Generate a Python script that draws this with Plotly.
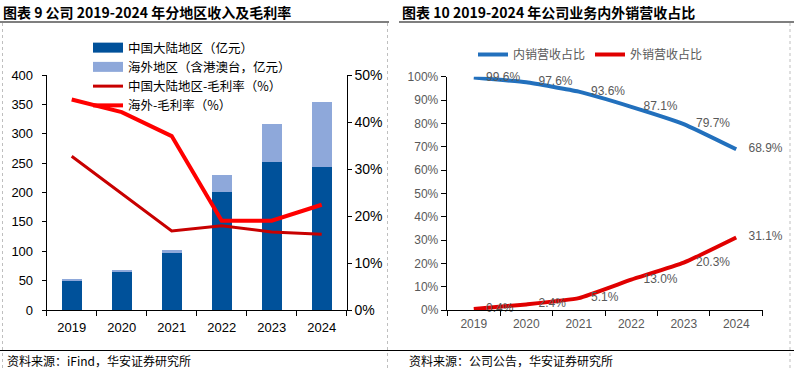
import plotly.graph_objects as go

# ---------------- data ----------------
years = ['2019', '2020', '2021', '2022', '2023', '2024']
mainland_rev = [50.5, 65.0, 97.5, 201.0, 252.0, 243.5]      # 中国大陆地区（亿元）
overseas_rev = [1.5, 3.5, 4.5, 28.5, 64.5, 110.5]           # 海外地区（含港澳台，亿元）
mainland_gm = [32.7, 24.8, 16.8, 17.9, 16.6, 16.1]          # 中国大陆地区-毛利率（%）
overseas_gm = [44.8, 42.1, 37.0, 19.0, 19.0, 22.4]          # 海外-毛利率（%）
domestic_share = [99.6, 97.6, 93.6, 87.1, 79.7, 68.9]       # 内销营收占比
export_share = [0.4, 2.4, 5.1, 13.0, 20.3, 31.1]            # 外销营收占比

left_yticks = [0, 50, 100, 150, 200, 250, 300, 350, 400]
right_yticks = [0, 10, 20, 30, 40, 50]
right_yticktext = ['0%', '10%', '20%', '30%', '40%', '50%']
share_ticks = [0, 10, 20, 30, 40, 50, 60, 70, 80, 90, 100]
share_ticktext = ['0%', '10%', '20%', '30%', '40%', '50%', '60%', '70%', '80%', '90%', '100%']

# ---------------- style ----------------
W, H = 794, 368
DARK_BLUE = '#00519A'
LIGHT_BLUE = '#8EA8DA'
RED_BRIGHT = '#FF0000'
RED_DARK = '#C80000'
BLUE_LINE = '#2270BD'
RED_LINE = '#E00000'
GRAY = '#595959'
CJK = 'Noto Sans CJK SC'
LAT = 'Liberation Sans, Arial, sans-serif'


def px(x):
    return x / W


def py(y):
    return 1 - y / H


fig = go.Figure()

# ---------- left chart: bars ----------
fig.add_trace(go.Bar(x=years, y=mainland_rev, name='中国大陆地区（亿元）',
                     marker=dict(color=DARK_BLUE, line=dict(width=0)),
                     width=0.4, xaxis='x', yaxis='y', showlegend=False))
fig.add_trace(go.Bar(x=years, y=overseas_rev, name='海外地区（含港澳台，亿元）',
                     marker=dict(color=LIGHT_BLUE, line=dict(width=0)),
                     width=0.4, xaxis='x', yaxis='y', showlegend=False))
# lines on secondary axis
fig.add_trace(go.Scatter(x=years, y=mainland_gm, name='中国大陆地区-毛利率（%）',
                         mode='lines', line=dict(color=RED_DARK, width=3),
                         xaxis='x', yaxis='y2', showlegend=False))
fig.add_trace(go.Scatter(x=years, y=overseas_gm, name='海外-毛利率（%）',
                         mode='lines', line=dict(color=RED_BRIGHT, width=4),
                         xaxis='x', yaxis='y2', showlegend=False))

# legend proxies (wide rectangular symbols like the reference)
for nm, col, w in [('中国大陆地区（亿元）', DARK_BLUE, 10),
                   ('海外地区（含港澳台，亿元）', LIGHT_BLUE, 10),
                   ('中国大陆地区-毛利率（%）', RED_DARK, 3),
                   ('海外-毛利率（%）', RED_BRIGHT, 4)]:
    fig.add_trace(go.Scatter(x=[None], y=[None], name=nm, mode='lines',
                             line=dict(color=col, width=w),
                             xaxis='x', yaxis='y', legend='legend'))

# ---------- right chart: share lines ----------
for nm, vals, col in [('内销营收占比', domestic_share, BLUE_LINE),
                      ('外销营收占比', export_share, RED_LINE)]:
    fig.add_trace(go.Scatter(x=years, y=vals, name=nm,
                             mode='lines+markers+text',
                             line=dict(color=col, width=4, shape='spline', smoothing=0.4),
                             marker=dict(size=18, color='rgba(0,0,0,0)'),
                             text=[f'{v:.1f}%' for v in vals],
                             textposition='middle right',
                             textfont=dict(family=LAT, size=12, color=GRAY),
                             cliponaxis=False,
                             xaxis='x2', yaxis='y3', legend='legend2'))

# ---------- layout ----------
left_dom = [px(46.7), px(346.7)]
right_dom = [px(446.7), px(763.3)]

common_axis = dict(showline=True, linecolor='black', linewidth=1,
                   tickcolor='black', showgrid=False, zeroline=False,
                   automargin=False)

fig.update_layout(
    template='none',
    width=W, height=H,
    autosize=False,
    margin=dict(l=0, r=0, t=0, b=0, pad=0),
    paper_bgcolor='white', plot_bgcolor='white',
    barmode='stack',
    font=dict(family=LAT, color='black'),
    xaxis=dict(domain=left_dom, anchor='y', type='category',
               ticks='outside', ticklen=5, tickson='boundaries',
               ticklabelstandoff=5,
               tickfont=dict(family=LAT, size=13, color='black'), **common_axis),
    yaxis=dict(domain=[py(310), py(75)], anchor='x', range=[0, 400],
               tickvals=left_yticks,
               ticks='outside', ticklen=4,
               ticklabelstandoff=6,
               tickfont=dict(family=LAT, size=13, color='black'), **common_axis),
    yaxis2=dict(overlaying='y', side='right', anchor='x', range=[0, 50],
                tickvals=right_yticks, ticktext=right_yticktext,
                ticks='outside', ticklen=4,
                tickfont=dict(family=LAT, size=14, color='black'), **common_axis),
    xaxis2=dict(domain=right_dom, anchor='y3', type='category',
                ticks='outside', ticklen=5, tickson='boundaries',
                ticklabelstandoff=3,
                tickfont=dict(family=LAT, size=12, color=GRAY), **common_axis),
    yaxis3=dict(domain=[py(310), py(76.7)], anchor='x2', range=[0, 100],
                tickvals=share_ticks, ticktext=share_ticktext,
                ticks='outside', ticklen=5,
                tickfont=dict(family=LAT, size=12, color=GRAY), **common_axis),
    legend=dict(x=px(88), y=py(33), xanchor='left', yanchor='top',
                orientation='v', bgcolor='rgba(0,0,0,0)', traceorder='normal',
                font=dict(family=CJK, size=12.5, color='black'),
                tracegroupgap=0),
    legend2=dict(x=px(473), y=py(40), xanchor='left', yanchor='top',
                 orientation='h', bgcolor='rgba(0,0,0,0)', traceorder='normal',
                 font=dict(family=CJK, size=12, color=GRAY)),
    showlegend=True,
)

# ---------- titles, sources, frames ----------
annos = [
    dict(text='<b>图表 9 公司 2019-2024 年分地区收入及毛利率</b>', x=px(2), y=py(12),
         font=dict(family=CJK, size=14, color='black')),
    dict(text='<b>图表 10 2019-2024 年公司业务内外销营收占比</b>', x=px(401), y=py(12),
         font=dict(family=CJK, size=14, color='black')),
    dict(text='资料来源：iFind，华安证券研究所', x=px(6), y=py(360),
         font=dict(family=CJK, size=12, color='black')),
    dict(text='资料来源：公司公告，华安证券研究所', x=px(408), y=py(360),
         font=dict(family=CJK, size=12, color='black')),
]
for a in annos:
    fig.add_annotation(xref='paper', yref='paper', xanchor='left', yanchor='middle',
                       showarrow=False, borderpad=0, **a)

shapes = [
    dict(type='line', x0=0, x1=px(389), y0=py(22), y1=py(22), line=dict(color='black', width=1.2)),
    dict(type='line', x0=px(399), x1=1, y0=py(22), y1=py(22), line=dict(color='black', width=1.2)),
    dict(type='line', x0=0, x1=1, y0=py(350.5), y1=py(350.5), line=dict(color='black', width=1)),
]
for xv in [2.5, 387.5, 790]:
    shapes.append(dict(type='line', x0=px(xv), x1=px(xv), y0=py(23), y1=0,
                       line=dict(color='#BFBFBF', width=1, dash='dot')))
for s in shapes:
    fig.add_shape(xref='paper', yref='paper', layer='below', **s)

fig.write_html('out.html',
               config={'displayModeBar': False, 'responsive': False},
               post_script="document.body.style.margin='0';document.body.style.padding='0';")
